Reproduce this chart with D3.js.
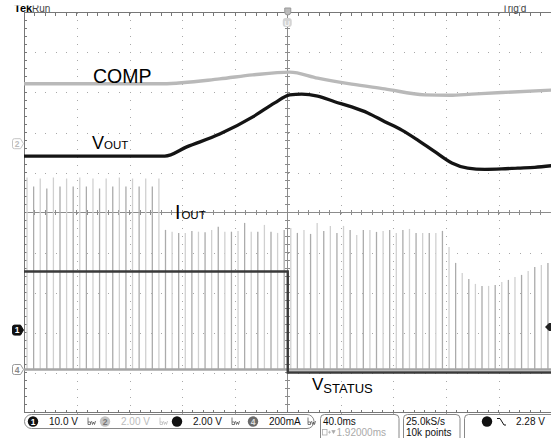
<!DOCTYPE html>
<html><head><meta charset="utf-8">
<script src="https://cdn.jsdelivr.net/npm/d3@7"></script>
<style>
html,body{margin:0;padding:0;background:#fff;}
svg{display:block;font-family:"Liberation Sans",Arial,sans-serif;}
</style></head><body>
<svg id="c" width="551" height="438"></svg>
<script>
// ---- axes: time in ms (40 ms/div, 10 div), level in graticule divisions (10 div)
const timeDomain = [-200, 200];
const divDomain = [-5, 5];
const timePerDiv = 40;

// ---- COMP trace (light grey)
const compT   = [-200, -94.8, -51.6, -26.5, 1.5, 22.7, 48.5, 73.6, 103.9, 122.8, 139.5, 162.3, 200];
const compDiv = [3.22, 3.22, 3.34, 3.44, 3.51, 3.36, 3.21, 3.09, 2.94, 2.93, 2.96, 3.00, 3.06];

// ---- VOUT trace (black)
const voutT   = [-200, -93.3, -76.6, -51.6, -26.5, -9.9, 1.5, 10.6, 22.7, 35.6, 48.5, 60.7, 73.6, 86.5, 98.6, 111.5, 124.4, 136.5, 149.4, 162.3, 174.4, 187.3, 200];
const voutDiv = [1.41, 1.41, 1.64, 1.96, 2.39, 2.74, 2.94, 2.96, 2.91, 2.77, 2.64, 2.49, 2.27, 2.06, 1.81, 1.52, 1.24, 1.11, 1.08, 1.09, 1.11, 1.13, 1.17];

// ---- VSTATUS (step, falls at trigger)
const vstatusT   = [-200, 0, 200];
const vstatusDiv = [-1.475, -4.0, -4.0];

// ---- IOUT pulses (channel 4, 200 mA/div), peak current of each pulse in mA
const ioutBaseDiv = -3.925;
const ioutScale = 200;
const pulseStart = -197.7, pulsePeriod = 5.0;
const ioutPeak = [960,915,955,905,960,915,955,915,960,915,955,905,955,915,960,915,955,915,955,915,955,
                  698,689,683,683,693,689,686,698,714,689,689,693,733,689,689,723,689,683,698,
                  708,683,698,678,733,693,718,683,718,698,673,698,698,688,693,698,683,698,703,683,
                  683,683,683,693,613,533,483,453,428,418,418,423,438,448,463,473,493,513,523,533];

// ---- channel markers (div)
const markerCh2 = 1.72, markerCh1 = -2.94, markerCh4 = -3.925, trigLevelDiv = -2.86;

// ---- readouts
const chanReadouts = [
  {ch:"1", text:"10.0 V", fill:"#111", txt:"#fff", col:"#111"},
  {ch:"2", text:"2.00 V", fill:"#c4c4c4", txt:"#777", col:"#bbb"},
  {ch:"3", text:"2.00 V", fill:"#111", txt:"#111", col:"#111"},
  {ch:"4", text:"200mA", fill:"#6a6a6a", txt:"#ddd", col:"#111"}
];
const timeReadout = ["40.0ms", "1.92000ms"];
const acqReadout = ["25.0kS/s", "10k points"];
const trigReadout = "2.28 V";

const svg = d3.select("#c");
const x = d3.scaleLinear().domain(timeDomain).range([24, 551.5]);
const y = d3.scaleLinear().domain(divDomain).range([412.5, 12.5]);

// ---- graticule
const grid = svg.append("g").attr("shape-rendering", "crispEdges");
const minorT = d3.range(timeDomain[0], timeDomain[1] + 0.1, timePerDiv / 5);
const minorV = d3.range(divDomain[0], divDomain[1] + 0.01, 0.2);
d3.range(-160, 200, 40).filter(t => t !== 0).forEach(t => {
  minorV.forEach(v => grid.append("rect").attr("x", Math.round(x(t)) - 0.5).attr("y", Math.round(y(v)) - 0.5)
    .attr("width", 1).attr("height", 1).attr("fill", "#a8a8a8"));
});
d3.range(-4, 5, 1).filter(v => v !== 0).forEach(v => {
  minorT.forEach(t => grid.append("rect").attr("x", Math.round(x(t)) - 0.5).attr("y", Math.round(y(v)) - 0.5)
    .attr("width", 1).attr("height", 1).attr("fill", "#a8a8a8"));
});
const gcol = "#8c8c8c";
grid.append("line").attr("x1", x(0)).attr("x2", x(0)).attr("y1", y(5)).attr("y2", y(-5)).attr("stroke", gcol);
grid.append("line").attr("x1", x(-200)).attr("x2", x(200)).attr("y1", y(0)).attr("y2", y(0)).attr("stroke", gcol);
minorV.forEach(v => grid.append("line").attr("x1", x(0) - 2.5).attr("x2", x(0) + 2.5).attr("y1", y(v)).attr("y2", y(v)).attr("stroke", gcol));
minorT.forEach(t => grid.append("line").attr("x1", x(t)).attr("x2", x(t)).attr("y1", y(0) - 2.5).attr("y2", y(0) + 2.5).attr("stroke", gcol));
grid.append("line").attr("x1", x(-200)).attr("x2", x(200)).attr("y1", y(5)).attr("y2", y(5)).attr("stroke", "#777");
grid.append("line").attr("x1", x(-200)).attr("x2", x(200)).attr("y1", y(-5)).attr("y2", y(-5)).attr("stroke", "#777");
grid.append("line").attr("x1", x(-200)).attr("x2", x(-200)).attr("y1", y(5)).attr("y2", y(-5)).attr("stroke", "#777");
minorT.forEach(t => {
  grid.append("line").attr("x1", x(t)).attr("x2", x(t)).attr("y1", y(5)).attr("y2", y(5) + 3).attr("stroke", "#777");
  grid.append("line").attr("x1", x(t)).attr("x2", x(t)).attr("y1", y(-5)).attr("y2", y(-5) - 3).attr("stroke", "#777");
});
minorV.forEach(v => grid.append("line").attr("x1", x(-200)).attr("x2", x(-200) + 3).attr("y1", y(v)).attr("y2", y(v)).attr("stroke", "#777"));

// ---- IOUT pulses
const pulses = svg.append("g");
ioutPeak.forEach((p, k) => {
  const t = pulseStart + k * pulsePeriod;
  pulses.append("line").attr("x1", x(t)).attr("x2", x(t))
    .attr("y1", y(ioutBaseDiv)).attr("y2", y(ioutBaseDiv + p / ioutScale))
    .attr("stroke", k % 2 ? "#ababab" : "#d0d0d0").attr("stroke-width", 1.3);
});
svg.append("line").attr("x1", x(-200)).attr("x2", x(200)).attr("y1", y(ioutBaseDiv)).attr("y2", y(ioutBaseDiv))
  .attr("stroke", "#a6a6a6").attr("stroke-width", 2.4);

// ---- VSTATUS
const stepLine = d3.line().x(d => x(d[0])).y(d => y(d[1])).curve(d3.curveStepAfter);
svg.append("path").attr("d", stepLine(d3.zip(vstatusT, vstatusDiv))).attr("fill", "none")
  .attr("stroke", "#3a3a3a").attr("stroke-width", 2.4);

// ---- COMP and VOUT
const line = d3.line().x(d => x(d[0])).y(d => y(d[1])).curve(d3.curveMonotoneX);
svg.append("path").attr("d", line(d3.zip(compT, compDiv))).attr("fill", "none")
  .attr("stroke", "#b9b9b9").attr("stroke-width", 3.4);
svg.append("path").attr("d", line(d3.zip(voutT, voutDiv))).attr("fill", "none")
  .attr("stroke", "#141414").attr("stroke-width", 3.3);

// ---- trace labels
svg.append("text").attr("x", 93).attr("y", 83).attr("font-size", 19.5).text("COMP");
const vl = svg.append("text").attr("x", 92).attr("y", 149).attr("font-size", 18);
vl.append("tspan").text("V"); vl.append("tspan").attr("font-size", 11.5).text("OUT");
const il = svg.append("text").attr("x", 175).attr("y", 219).attr("font-size", 19.5);
il.append("tspan").text("I"); il.append("tspan").attr("dx", 1).attr("font-size", 11.5).text("OUT");
const sl = svg.append("text").attr("x", 312).attr("y", 390).attr("font-size", 17);
sl.append("tspan").text("V"); sl.append("tspan").attr("dy", 3).attr("font-size", 13).text("STATUS");

// ---- channel markers (left)
function tag(yc, fill, stroke, label, txt) {
  const x0 = 12.5, w = 11, h = 10, y0 = yc - h / 2;
  svg.append("path").attr("d", `M${x0+2},${y0} h${w-5} l3,${h/2} l-3,${h/2} h${-(w-5)} q-2,0 -2,-2 v${-(h-4)} q0,-2 2,-2 z`)
    .attr("fill", fill).attr("stroke", stroke).attr("stroke-width", 1);
  svg.append("text").attr("x", x0 + 4.5).attr("y", yc + 3.2).attr("text-anchor", "middle")
    .attr("font-size", 8.5).attr("font-weight", "bold").attr("fill", txt).text(label);
}
tag(y(markerCh2), "#fff", "#c4c4c4", "2", "#bbb");
tag(y(markerCh1), "#111", "#111", "1", "#fff");
tag(y(markerCh4), "#fff", "#999", "4", "#888");
const ty = y(trigLevelDiv);
svg.append("path").attr("d", `M545,${ty} l4,-4 h3 v8 h-3 z`).attr("fill", "#222");

// ---- trigger position markers (top)
svg.append("path").attr("d", `M${x(0)-3},8 v4 q0,3 3,3 q3,0 3,-3 v-4 z`).attr("fill", "#bbb").attr("stroke", "#999");
svg.append("rect").attr("x", x(0) - 5).attr("y", 18).attr("width", 9).attr("height", 9).attr("rx", 3).attr("fill", "#d4d4d4");
svg.append("text").attr("x", x(0) - 0.5).attr("y", 25.5).attr("text-anchor", "middle").attr("font-size", 8).attr("fill", "#fff").text("U");

// ---- top status (partially cut)
svg.append("text").attr("x", 14).attr("y", 11.5).attr("font-size", 11).attr("font-weight", "bold").text("Tek");
svg.append("text").attr("x", 32).attr("y", 11.5).attr("font-size", 10).attr("fill", "#444").text("Run");
svg.append("text").attr("x", 502).attr("y", 11.5).attr("font-size", 10).attr("fill", "#444").text("Trig'd");
svg.append("rect").attr("x", 0).attr("y", 0).attr("width", 551).attr("height", 5.5).attr("fill", "#fff");

// ---- bottom readouts
const bot = svg.append("g").attr("font-size", 10);
bot.append("rect").attr("x", 24.5).attr("y", 414.5).attr("width", 289.5).attr("height", 14).attr("rx", 7)
  .attr("fill", "#fff").attr("stroke", "#888");
const chX = [33, 105, 177, 253];
chanReadouts.forEach((c, i) => {
  const cx = chX[i];
  bot.append("circle").attr("cx", cx).attr("cy", 421.5).attr("r", 5.2).attr("fill", c.fill);
  bot.append("text").attr("x", cx).attr("y", 424.6).attr("text-anchor", "middle").attr("font-size", 8.5)
    .attr("font-weight", "bold").attr("fill", c.txt).text(c.ch);
  bot.append("text").attr("x", cx + 16).attr("y", 425.3).attr("fill", c.col).text(c.text);
  const bx = cx + 55;
  bot.append("path").attr("d", `M${bx},417.5 v7 M${bx},422 h2.5 v2.5 h-2.5 M${bx+3.5},421 l1,3.5 l1,-2.5 l1,2.5 l1,-3.5`)
    .attr("fill", "none").attr("stroke", i === 1 ? "#bbb" : "#555").attr("stroke-width", 0.8);
});
bot.append("rect").attr("x", 320.5).attr("y", 414.5).attr("width", 78.5).attr("height", 30).attr("rx", 4).attr("fill", "#fff").attr("stroke", "#888");
bot.append("text").attr("x", 323).attr("y", 425.3).attr("fill", "#111").text(timeReadout[0]);
bot.append("rect").attr("x", 322.5).attr("y", 429.5).attr("width", 4.5).attr("height", 5.5).attr("fill", "none").attr("stroke", "#aaa").attr("stroke-width", 0.8);
bot.append("path").attr("d", "M328,432.2 h3 M329.5,430.7 v3 M331.8,430.5 h3.4 l-1.7,3 z").attr("fill", "#aaa").attr("stroke", "#aaa").attr("stroke-width", 0.7);
bot.append("text").attr("x", 336.5).attr("y", 435.8).attr("fill", "#aaa").text(timeReadout[1]);
bot.append("rect").attr("x", 403.5).attr("y", 414.5).attr("width", 56.5).attr("height", 30).attr("rx", 4).attr("fill", "#fff").attr("stroke", "#888");
bot.append("text").attr("x", 406).attr("y", 425.3).attr("fill", "#111").text(acqReadout[0]);
bot.append("text").attr("x", 406).attr("y", 436).attr("fill", "#111").text(acqReadout[1]);
bot.append("rect").attr("x", 464.5).attr("y", 414.5).attr("width", 95).attr("height", 30).attr("rx", 4).attr("fill", "#fff").attr("stroke", "#888");
bot.append("circle").attr("cx", 487).attr("cy", 421.5).attr("r", 5.2).attr("fill", "#111");
bot.append("path").attr("d", "M497,418.5 h3 l4,6.5 h2").attr("fill", "none").attr("stroke", "#111").attr("stroke-width", 1);
bot.append("text").attr("x", 516).attr("y", 425.3).attr("fill", "#111").text(trigReadout);
</script>
</body></html>
